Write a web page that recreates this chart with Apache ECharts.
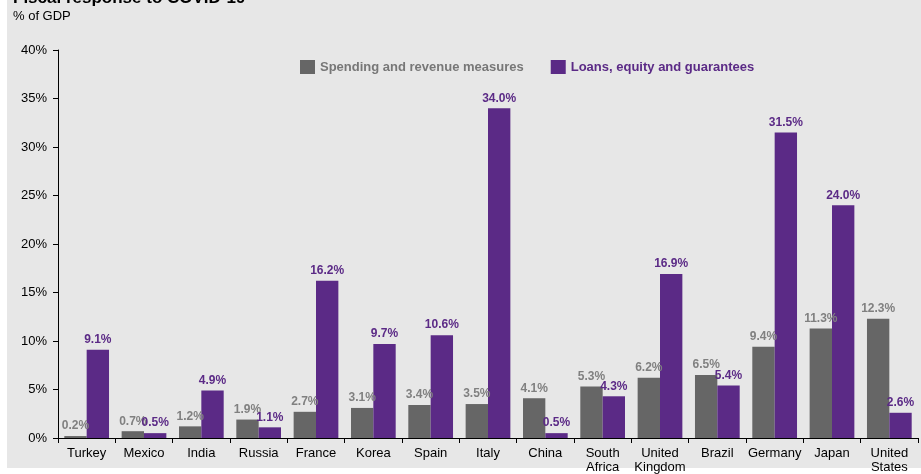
<!DOCTYPE html>
<html>
<head>
<meta charset="utf-8">
<script src="https://cdn.jsdelivr.net/npm/echarts@6/dist/echarts.min.js"></script>
<style>
html,body{margin:0;padding:0;background:#fff;}
#bg{position:absolute;left:7px;top:0;width:914px;height:468px;background:#e7e7e7;}
#chart{position:absolute;left:0;top:0;width:921px;height:474px;}
</style>
</head>
<body>
<div id="bg"></div>
<div id="chart"></div>
<script>
const categories = ['Turkey','Mexico','India','Russia','France','Korea','Spain','Italy','China','South\nAfrica','United\nKingdom','Brazil','Germany','Japan','United\nStates'];
const spending = [0.2,0.7,1.2,1.9,2.7,3.1,3.4,3.5,4.1,5.3,6.2,6.5,9.4,11.3,12.3];
const loans = [9.1,0.5,4.9,1.1,16.2,9.7,10.6,34.0,0.5,4.3,16.9,5.4,31.5,24.0,2.6];
const yTicks = [0,5,10,15,20,25,30,35,40];

const FONT = 'Liberation Sans, Arial, sans-serif';
const GRAY = '#666666';
const PURPLE = '#5b2a86';

const chart = echarts.init(document.getElementById('chart'), null, {renderer:'canvas'});
chart.setOption({
  backgroundColor: 'transparent',
  animation: false,
  textStyle: {fontFamily: FONT},
  title: [{
    text: 'Fiscal response to COVID-19',
    left: 8, top: -15,
    textStyle: {fontFamily: FONT, fontSize: 17, fontWeight: 'bold', color: '#000'}
  },{
    text: '% of GDP',
    left: 8, top: 5,
    textStyle: {fontFamily: FONT, fontSize: 13, fontWeight: 'normal', color: '#000'}
  }],
  legend: {
    left: 295, top: 55,
    itemWidth: 15, itemHeight: 14, itemGap: 27,
    icon: 'rect',
    textStyle: {fontFamily: FONT, fontSize: 13, fontWeight: 'bold'},
    data: [
      {name: 'Spending and revenue measures', textStyle: {color: '#777777'}},
      {name: 'Loans, equity and guarantees', textStyle: {color: PURPLE}}
    ]
  },
  grid: {left: 58, right: 3, top: 50, bottom: 34, containLabel: false},
  xAxis: {
    type: 'category',
    data: categories,
    axisLine: {lineStyle: {color: '#000', width: 1}},
    axisTick: {show: true, length: 5, lineStyle: {color: '#000'}},
    axisLabel: {fontFamily: FONT, fontSize: 13, color: '#000', margin: 8, lineHeight: 14, interval: 0}
  },
  yAxis: {
    type: 'value',
    min: 0, max: 40, interval: 5,
    splitLine: {show: false},
    axisLine: {show: true, lineStyle: {color: '#000', width: 1}},
    axisTick: {show: true, length: 5, lineStyle: {color: '#000'}},
    axisLabel: {fontFamily: FONT, fontSize: 13, color: '#000', margin: 11,
      formatter: v => yTicks.includes(v) ? v + '%' : ''}
  },
  series: [{
    name: 'Spending and revenue measures',
    type: 'bar',
    data: spending,
    barGap: '0%',
    barCategoryGap: '22%',
    itemStyle: {color: GRAY},
    label: {show: true, position: 'top', distance: 4, color: '#808080', fontFamily: FONT, fontSize: 12, fontWeight: 'bold',
      formatter: p => p.value.toFixed(1) + '%'}
  },{
    name: 'Loans, equity and guarantees',
    type: 'bar',
    data: loans,
    barGap: '0%',
    barCategoryGap: '22%',
    itemStyle: {color: PURPLE},
    label: {show: true, position: 'top', distance: 4, color: PURPLE, fontFamily: FONT, fontSize: 12, fontWeight: 'bold',
      formatter: p => p.value.toFixed(1) + '%'}
  }]
});
</script>
</body>
</html>
